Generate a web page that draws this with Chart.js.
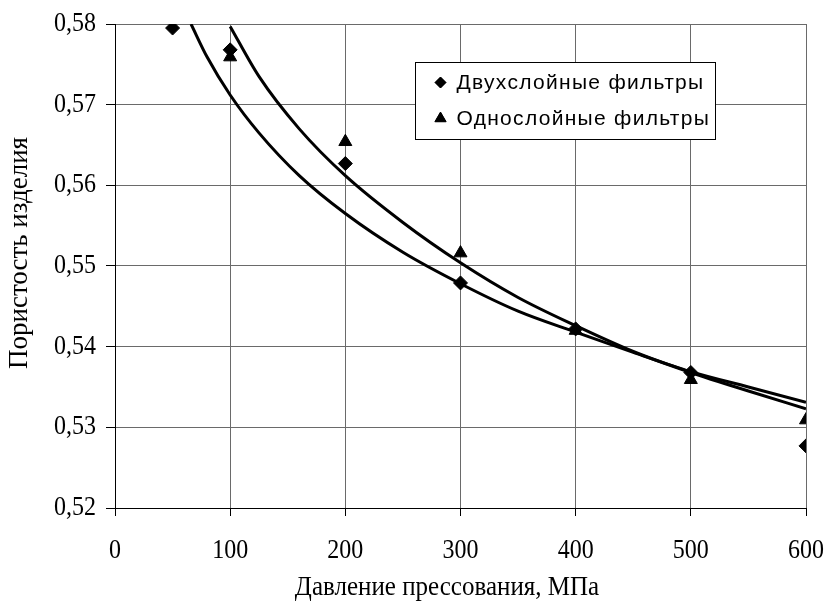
<!DOCTYPE html>
<html>
<head>
<meta charset="utf-8">
<script src="https://cdn.jsdelivr.net/npm/chart.js@4/dist/chart.umd.min.js"></script>
<style>
html,body{margin:0;padding:0;background:#fff;}
canvas{display:block;}
</style>
</head>
<body>
<canvas id="c" width="825" height="601"></canvas>
<script>
// ---- data ----
const seriesNames = ['Двухслойные фильтры', 'Однослойные фильтры'];
const xTicks = [0, 100, 200, 300, 400, 500, 600];
const yTicks = [0.52, 0.53, 0.54, 0.55, 0.56, 0.57, 0.58];

const twoLayerX = [50, 100, 200, 300, 400, 500, 600];
const twoLayerY = [0.5795, 0.5768, 0.5627, 0.5479, 0.5422, 0.5368, 0.5277];

const oneLayerX = [100, 200, 300, 400, 500, 600];
const oneLayerY = [0.5759, 0.5654, 0.5516, 0.5420, 0.5359, 0.5309];

// trend curves
const twoTrendX = [66, 80, 100, 125, 160, 200, 250, 300, 350, 400, 450, 500, 550, 600];
const twoTrendY = [0.5800, 0.5759, 0.5712, 0.5665, 0.5612, 0.5565, 0.5517, 0.5478, 0.5444, 0.5418, 0.5393, 0.5369, 0.5350, 0.5331];

const oneTrendX = [100, 125, 160, 200, 250, 300, 350, 400, 450, 500, 550, 600];
const oneTrendY = [0.5797, 0.5735, 0.5670, 0.5612, 0.5554, 0.5504, 0.5461, 0.5426, 0.5394, 0.5368, 0.5345, 0.5323];

const xTitle = 'Давление прессования, МПа';
const yTitle = 'Пористость изделия';

const pts = (xs, ys) => xs.map((x, i) => ({x: x, y: ys[i]}));

// The reference's serif axis text is slightly stretched vertically; mimic that.
const canvas = document.getElementById('c');
const ctx0 = canvas.getContext('2d');
const origFill = CanvasRenderingContext2D.prototype.fillText;
ctx0.__stretch = 1.1;
ctx0.fillText = function (text, x, y, maxW) {
  const k = this.__stretch || 1;
  const call = () => (maxW === undefined ? origFill.call(this, text, x, y) : origFill.call(this, text, x, y, maxW));
  if (k === 1) return call();
  const m = this.getTransform();
  const p = m.transformPoint(new DOMPoint(x, y));
  const s = new DOMMatrix().translate(p.x, p.y).scale(1, k).translate(-p.x, -p.y).multiply(m);
  this.setTransform(s);
  call();
  this.setTransform(m);
};

const SERIF = '"Liberation Serif", "Times New Roman", serif';

const titlesPlugin = {
  id: 'axisTitles',
  afterDraw(chart) {
    const ctx = chart.ctx;
    const ca = chart.chartArea;
    const prev = ctx.__stretch;
    ctx.save();
    ctx.fillStyle = '#000';
    ctx.textAlign = 'center';
    ctx.textBaseline = 'middle';
    ctx.font = '25px ' + SERIF;
    ctx.fillText(xTitle, ca.left + 332, ca.bottom + 80);
    ctx.__stretch = 1;
    ctx.translate(19.5, ca.top + 229);
    ctx.rotate(-Math.PI / 2);
    ctx.font = '27px ' + SERIF;
    ctx.fillText(yTitle, 0, 0);
    ctx.__stretch = prev;
    ctx.restore();
  }
};

const legendPlugin = {
  id: 'innerLegend',
  afterDatasetsDraw(chart) {
    const ctx = chart.ctx;
    const ca = chart.chartArea;
    const left = Math.round(ca.left + 300) + 0.5;
    const top = Math.round(ca.top + 38) + 0.5;
    const w = 300, h = 77;
    ctx.save();
    const prev = ctx.__stretch;
    ctx.__stretch = 1;
    ctx.fillStyle = '#fff';
    ctx.fillRect(left, top, w, h);
    ctx.strokeStyle = '#000';
    ctx.lineWidth = 1;
    ctx.strokeRect(left, top, w, h);
    const items = [
      {name: seriesNames[0], style: 'rectRot', r: 5.5, cy: top + 20},
      {name: seriesNames[1], style: 'triangle', r: 6.5, cy: top + 56}
    ];
    ctx.font = '21px "Liberation Sans", Arial, sans-serif';
    ctx.textBaseline = 'middle';
    ctx.textAlign = 'left';
    try { ctx.letterSpacing = '1.3px'; } catch (e) {}
    items.forEach(it => {
      ctx.fillStyle = '#000';
      ctx.strokeStyle = '#000';
      Chart.helpers.drawPoint(ctx, {pointStyle: it.style, radius: it.r, borderWidth: 1, rotation: 0}, left + 25, it.cy);
      ctx.fill();
      ctx.fillStyle = '#000';
      ctx.fillText(it.name, left + 41, it.cy + 1);
    });
    ctx.__stretch = prev;
    ctx.restore();
  }
};

new Chart(canvas, {
  type: 'scatter',
  data: {
    datasets: [
      {
        label: seriesNames[0],
        data: pts(twoLayerX, twoLayerY),
        pointStyle: 'rectRot',
        pointRadius: 7,
        backgroundColor: '#000',
        borderColor: '#000',
        borderWidth: 1,
        order: 0
      },
      {
        label: seriesNames[1],
        data: pts(oneLayerX, oneLayerY),
        pointStyle: 'triangle',
        pointRadius: 7.5,
        backgroundColor: '#000',
        borderColor: '#000',
        borderWidth: 1,
        order: 0
      },
      {
        label: 'trend1',
        data: pts(twoTrendX, twoTrendY),
        showLine: true,
        pointRadius: 0,
        borderColor: '#000',
        borderWidth: 3,
        cubicInterpolationMode: 'monotone',
        order: 1
      },
      {
        label: 'trend2',
        data: pts(oneTrendX, oneTrendY),
        showLine: true,
        pointRadius: 0,
        borderColor: '#000',
        borderWidth: 3,
        cubicInterpolationMode: 'monotone',
        order: 1
      }
    ]
  },
  options: {
    responsive: false,
    animation: false,
    layout: {padding: {left: 0, right: 19, top: 24, bottom: 0}},
    plugins: {legend: {display: false}, tooltip: {enabled: false}},
    scales: {
      x: {
        type: 'linear',
        min: 0, max: 600,
        afterBuildTicks: s => { s.ticks = xTicks.map(v => ({value: v})); },
        afterFit: s => { s.height = 93; s.paddingLeft = 0; s.paddingRight = 0; },
        grid: {color: '#6a6a6a', lineWidth: 1, tickLength: 8, tickColor: '#000'},
        border: {color: '#000', width: 1},
        ticks: {
          color: '#000',
          padding: 21,
          maxRotation: 0,
          font: {family: SERIF, size: 24},
          callback: v => String(v)
        },
        title: {display: false}
      },
      y: {
        type: 'linear',
        min: 0.52, max: 0.58,
        afterBuildTicks: s => { s.ticks = yTicks.map(v => ({value: v})); },
        afterFit: s => { s.width = 115; s.paddingTop = 0; s.paddingBottom = 0; },
        grid: {color: '#6a6a6a', lineWidth: 1, tickLength: 9, tickColor: '#000'},
        border: {color: '#000', width: 1},
        ticks: {
          color: '#000',
          padding: 10,
          font: {family: SERIF, size: 24},
          callback: v => v.toFixed(2).replace('.', ',')
        },
        title: {display: false}
      }
    }
  },
  plugins: [legendPlugin, titlesPlugin]
});
</script>
</body>
</html>
